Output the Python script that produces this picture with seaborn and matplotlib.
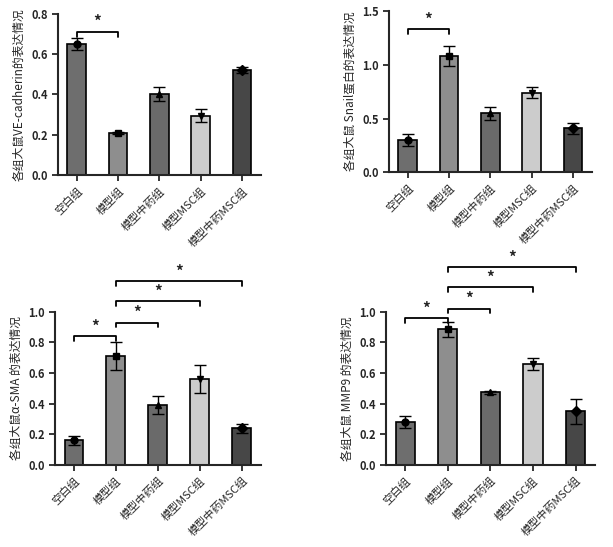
import seaborn as sns
import matplotlib.pyplot as plt
import pandas as pd

sns.set_style('ticks')
plt.rcParams['font.family'] = ['Noto Sans CJK SC', 'DejaVu Sans']

groups = ['空白组', '模型组', '模型中药组', '模型MSC组', '模型中药MSC组']
colors = ['#6e6e6e', '#8e8e8e', '#6a6a6a', '#cccccc', '#474747']

vecad = [0.65, 0.21, 0.40, 0.295, 0.52]
vecad_err = [0.03, 0.005, 0.035, 0.03, 0.015]
snail = [0.30, 1.08, 0.55, 0.74, 0.41]
snail_err = [0.06, 0.09, 0.06, 0.05, 0.05]
sma = [0.16, 0.71, 0.39, 0.56, 0.24]
sma_err = [0.03, 0.09, 0.06, 0.09, 0.03]
mmp9 = [0.28, 0.885, 0.475, 0.66, 0.35]
mmp9_err = [0.04, 0.05, 0.01, 0.04, 0.08]

panels = [
    ([0.095, 0.68, 0.33, 0.295], vecad, vecad_err, '各组大鼠VE-cadherin的表达情况',
     0.8, [0, 0.2, 0.4, 0.6, 0.8], [(0, 1, 0.71)]),
    ([0.635, 0.685, 0.33, 0.295], snail, snail_err, '各组大鼠 Snail蛋白的表达情况',
     1.5, [0, 0.5, 1.0, 1.5], [(0, 1, 1.33)]),
    ([0.09, 0.15, 0.335, 0.28], sma, sma_err, '各组大鼠α-SMA 的表达情况',
     1.0, [0, 0.2, 0.4, 0.6, 0.8, 1.0], [(0, 1, 0.84), (1, 2, 0.93), (1, 3, 1.07), (1, 4, 1.2)]),
    ([0.63, 0.15, 0.34, 0.28], mmp9, mmp9_err, '各组大鼠 MMP9 的表达情况',
     1.0, [0, 0.2, 0.4, 0.6, 0.8, 1.0], [(0, 1, 0.96), (1, 2, 1.02), (1, 3, 1.16), (1, 4, 1.29)]),
]
markers = ['o', 's', '^', 'v', 'D']

fig = plt.figure(figsize=(6.13, 5.47), dpi=100)
for rect, vals, errs, ylabel, ymax, ticks, sigs in panels:
    ax = fig.add_axes(rect)
    df = pd.DataFrame({'group': groups, 'value': vals})
    sns.barplot(data=df, x='group', y='value', hue='group', palette=colors,
                legend=False, width=0.45, edgecolor='black', linewidth=1.2, ax=ax)
    for i, (v, e) in enumerate(zip(vals, errs)):
        ax.errorbar(i, v, yerr=e, color='black', capsize=4, lw=1, capthick=1)
        ax.plot(i, v, marker=markers[i], color='black', ms=5)
    ax.set_ylim(0, ymax)
    ax.set_yticks(ticks)
    ax.set_yticklabels([f'{t:.1f}' for t in ticks], fontweight='bold', fontsize=8)
    ax.set_xlabel('')
    ax.set_ylabel(ylabel, fontsize=8.5)
    ax.set_xticks(range(5))
    ax.set_xticklabels(groups, rotation=45, ha='right', rotation_mode='anchor', fontsize=8)
    for sp in ['left', 'bottom']:
        ax.spines[sp].set_linewidth(1.5)
    ax.tick_params(width=1.3, length=4)
    sns.despine(ax=ax)
    d = ymax * 0.03
    for a, b, y in sigs:
        ax.plot([a, a, b, b], [y - d, y, y, y - d], color='black', lw=1.3, clip_on=False)
        ax.text((a + b) / 2, y + d * 0.3, '*', ha='center', va='bottom',
                fontsize=11, fontweight='bold', clip_on=False)

fig.savefig('out.png', dpi=100)
